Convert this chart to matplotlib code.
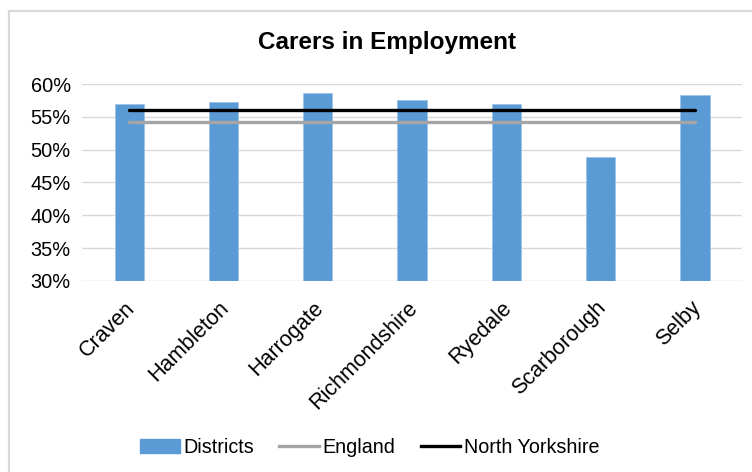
import matplotlib.pyplot as plt
import matplotlib.transforms as mtransforms
from matplotlib.patches import Rectangle
from matplotlib.lines import Line2D
from matplotlib.ticker import FuncFormatter

plt.rcParams['font.family'] = ['Liberation Sans', 'DejaVu Sans']

districts = ['Craven', 'Hambleton', 'Harrogate', 'Richmondshire',
             'Ryedale', 'Scarborough', 'Selby']
district_values = [57.0, 57.2, 58.6, 57.5, 56.9, 48.8, 58.3]
england_value = 54.2
north_yorkshire_value = 56.1
y_ticks = [30, 35, 40, 45, 50, 55, 60]

BAR_COLOR = '#5B9BD5'
ENGLAND_COLOR = '#A5A5A5'
NY_COLOR = '#000000'
GRID_COLOR = '#D9D9D9'

fig = plt.figure(figsize=(7.52, 4.72), dpi=100)
ax = fig.add_axes([0.109, 0.405, 0.878, 0.417])

x = list(range(len(districts)))
ax.bar(x, district_values, width=0.31, color=BAR_COLOR, zorder=2,
       edgecolor='#9DC3E6', linewidth=0.6)
ax.plot(x, [england_value] * len(x), color=ENGLAND_COLOR, lw=2.4,
        solid_capstyle='round', zorder=3)
ax.plot(x, [north_yorkshire_value] * len(x), color=NY_COLOR, lw=2.4,
        solid_capstyle='round', zorder=4)

ax.set_xlim(-0.5, len(districts) - 0.5)
ax.set_ylim(30, 60)
ax.set_yticks(y_ticks)
ax.yaxis.set_major_formatter(FuncFormatter(lambda v, _: f'{v:.0f}%'))
ax.grid(axis='y', color=GRID_COLOR, lw=1, zorder=0)
ax.set_axisbelow(True)
for spine in ax.spines.values():
    spine.set_visible(False)
ax.tick_params(axis='both', length=0, colors='#000000')
ax.tick_params(axis='y', pad=8, labelsize=14.4)
ax.set_xticks(x)
ax.set_xticklabels(districts, rotation=45, ha='right', va='top',
                   rotation_mode='anchor', fontsize=15.5)
ax.tick_params(axis='x', pad=12)
# nudge the slanted labels a little left, as Excel places them
shift = mtransforms.ScaledTranslation(-5 / 100, 0, fig.dpi_scale_trans)
for label in ax.get_xticklabels():
    label.set_transform(label.get_transform() + shift)

fig.text(0.515, 0.91, 'Carers in Employment', ha='center', va='center',
         fontsize=17.5, fontweight='bold')

handles = [
    Rectangle((0, 0), 1, 1, color=BAR_COLOR),
    Line2D([0], [0], color=ENGLAND_COLOR, lw=2.4),
    Line2D([0], [0], color=NY_COLOR, lw=2.4),
]
fig.legend(handles, ['Districts', 'England', 'North Yorkshire'],
           loc='center', bbox_to_anchor=(0.492, 0.052), ncol=3,
           frameon=False, fontsize=14.2, handlelength=2.0,
           handletextpad=0.2, columnspacing=1.27)

# outer chart border (runs off the right and bottom edges)
fig.patches.append(Rectangle((9 / 752, -0.1), 1.2, 1 - 11 / 472 + 0.1,
                             transform=fig.transFigure, fill=False,
                             edgecolor='#D9D9D9', lw=1.6))

fig.savefig('out.png', dpi=100)
